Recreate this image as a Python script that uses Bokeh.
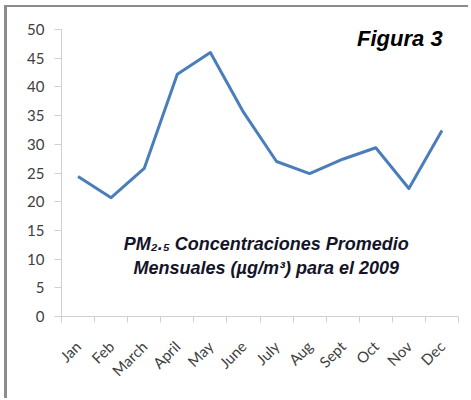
import numpy as np
from math import pi
from bokeh.plotting import figure
from bokeh.models import Range1d, FixedTicker, Label, ColumnDataSource
from bokeh.embed import file_html
from bokeh.resources import INLINE

months = ["Jan", "Feb", "March", "April", "May", "June", "July", "Aug", "Sept", "Oct", "Nov", "Dec"]
pm25 = [24.4, 20.7, 25.8, 42.2, 46.0, 35.6, 27.0, 24.9, 27.4, 29.4, 22.3, 32.4]
y_ticks = [0, 5, 10, 15, 20, 25, 30, 35, 40, 45, 50]

xpos = np.arange(len(months)) + 0.5
src = ColumnDataSource(dict(x=xpos, y=pm25, month=months))

p = figure(width=464, height=393, output_backend="svg", toolbar_location=None,
           x_range=Range1d(0, len(months)), y_range=Range1d(0, 50),
           min_border_left=54, min_border_top=22, min_border_right=13, min_border_bottom=84)
p.outline_line_color = None
p.grid.visible = False
p.background_fill_color = "white"
p.border_fill_color = "white"

p.line("x", "y", source=src, line_color="#4a7ebb", line_width=3, line_join="round")

ax_col = "#d0d0d0"
lab_col = "#404040"
# y axis
p.yaxis.ticker = FixedTicker(ticks=y_ticks)
p.yaxis.axis_line_color = ax_col
p.yaxis.major_tick_line_color = ax_col
p.yaxis.major_tick_out = 7
p.yaxis.major_tick_in = 0
p.yaxis.minor_tick_line_color = None
p.yaxis.major_label_text_font = "Lato"
p.yaxis.major_label_text_font_size = "15px"
p.yaxis.major_label_text_color = lab_col
p.yaxis.major_label_standoff = 10

# x axis
p.xaxis.ticker = FixedTicker(ticks=list(xpos), minor_ticks=list(range(len(months) + 1)))
p.xaxis.major_label_overrides = {float(x): m for x, m in zip(xpos, months)}
p.xaxis.axis_line_color = ax_col
p.xaxis.major_tick_line_color = None
p.xaxis.major_tick_out = 0
p.xaxis.major_tick_in = 0
p.xaxis.minor_tick_line_color = ax_col
p.xaxis.minor_tick_out = 6
p.xaxis.minor_tick_in = 0
p.xaxis.major_label_orientation = pi / 4
p.xaxis.major_label_text_font = "Lato"
p.xaxis.major_label_text_font_size = "15px"
p.xaxis.major_label_text_color = lab_col
p.xaxis.major_label_standoff = 21

p.add_layout(Label(x=11.52, y=48.4, text="Figura 3", text_align="right", text_baseline="middle",
                   text_font="Liberation Sans", text_font_style="bold italic",
                   text_font_size="22px", text_color="#000000"))
p.add_layout(Label(x=6.19, y=12.7, text="PM\u2082.\u2085 Concentraciones Promedio", text_align="center",
                   text_baseline="middle", text_font="Liberation Sans", text_font_style="bold italic",
                   text_font_size="18px", text_color="#141428"))
p.add_layout(Label(x=6.19, y=8.4, text="Mensuales (\u00b5g/m\u00b3) para el 2009", text_align="center",
                   text_baseline="middle", text_font="Liberation Sans", text_font_style="bold italic",
                   text_font_size="18px", text_color="#141428"))

p.styles = {"border-left": "3px solid #8c8c8c", "border-top": "2px solid #8c8c8c",
            "margin-left": "4px", "margin-top": "5px"}

open("out.html", "w").write(file_html(p, INLINE))
